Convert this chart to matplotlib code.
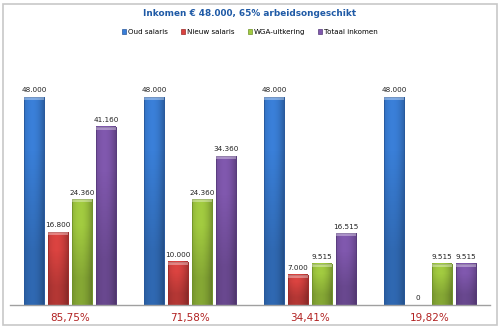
import matplotlib
matplotlib.use("Agg")
import matplotlib.pyplot as plt
import numpy as np
from matplotlib.patches import Rectangle
from matplotlib.colors import to_rgb

categories = ["85,75%", "71,58%", "34,41%", "19,82%"]
series_names = ["Oud salaris", "Nieuw salaris", "WGA-uitkering", "Totaal inkomen"]
oud_salaris = [48000, 48000, 48000, 48000]
nieuw_salaris = [16800, 10000, 7000, 0]
wga_uitkering = [24360, 24360, 9515, 9515]
totaal_inkomen = [41160, 34360, 16515, 9515]
title = "Inkomen € 48.000, 65% arbeidsongeschikt"

series = [oud_salaris, nieuw_salaris, wga_uitkering, totaal_inkomen]
colors = ["#3a7fd8", "#da4340", "#a2cb40", "#8058ae"]
edges = ["#27589c", "#9c2a27", "#6f9228", "#563a7a"]

W, H = 500, 329
fig = plt.figure(figsize=(W / 100, H / 100), dpi=100)
fig.patch.set_facecolor("white")

# outer frame
fig.patches.append(Rectangle((3 / W, 4 / H), 494 / W, 321 / H, transform=fig.transFigure,
                             fill=False, edgecolor="#c8c8c8", linewidth=1.2))

ax = fig.add_axes([10 / W, (H - 305) / H, 480 / W, 260 / H])
ymax = 48000 * 260 / 208
ax.set_xlim(-0.5, len(categories) - 0.5)
ax.set_ylim(0, ymax)


def shaded(color, n=32):
    """Horizontal shading across a bar: lighter middle, darker sides."""
    base = np.array(to_rgb(color))
    t = np.linspace(-1, 1, n)
    f = 1.0 - 0.18 * t ** 2 - 0.06 * t
    img = np.clip(base[None, :] * f[:, None], 0, 1)
    return img[None, :, :]


x = np.arange(len(categories))
bw = 20 / 120
step = 24 / 120
for i, (vals, c, ec, name) in enumerate(zip(series, colors, edges, series_names)):
    offs = x + (i - 1.5) * step
    bars = ax.bar(offs, vals, width=bw, color=c, edgecolor=ec, linewidth=0.6,
                  label=name, zorder=2)
    for b, xo, v in zip(bars, offs, vals):
        if v > 0:
            im = ax.imshow(shaded(c), extent=(xo - bw / 2, xo + bw / 2, 0, v),
                           aspect="auto", zorder=2.5, interpolation="bilinear")
            # darker toward the base
            ax.imshow(np.array([[[0, 0, 0, 0.0]], [[0, 0, 0, 0.18]]]),
                      extent=(xo - bw / 2, xo + bw / 2, 0, v), aspect="auto",
                      zorder=2.6, interpolation="bilinear")
            ax.bar(xo, v, width=bw, fill=False, edgecolor=ec, linewidth=0.6, zorder=2.8)
            ax.bar(xo, 700, bottom=v - 700, width=bw, color="white", alpha=0.35,
                   linewidth=0, zorder=3)
        lbl = f"{v:,}".replace(",", ".")
        ax.text(xo, v + 900, lbl, ha="center", va="bottom", fontsize=5.2, color="#222222",
                zorder=4)

ax.set_xlim(-0.5, len(categories) - 0.5)
ax.set_ylim(0, ymax)
for s in ["top", "right", "left"]:
    ax.spines[s].set_visible(False)
ax.spines["bottom"].set_color("#a0a0a0")
ax.spines["bottom"].set_linewidth(1.0)
ax.spines["bottom"].set_zorder(5)
ax.set_yticks([])
ax.set_xticks(x)
ax.set_xticklabels(categories, fontsize=7.5, color="#b22222")
ax.tick_params(axis="x", length=0, pad=6)

fig.text(0.5, 1 - 14 / H, title, ha="center", va="center", fontsize=6.4,
         fontweight="bold", color="#1f5aa6")

handles = [Rectangle((0, 0), 1, 1, facecolor=c, edgecolor=ec, linewidth=0.5)
           for c, ec in zip(colors, edges)]
fig.legend(handles, series_names, loc="center", bbox_to_anchor=(0.5, 1 - 32 / H), ncol=4,
           frameon=False, fontsize=5.1, handlelength=0.55, handleheight=0.6,
           handletextpad=0.25, columnspacing=1.9, borderaxespad=0)

fig.savefig("out.png", dpi=100, facecolor="white")
